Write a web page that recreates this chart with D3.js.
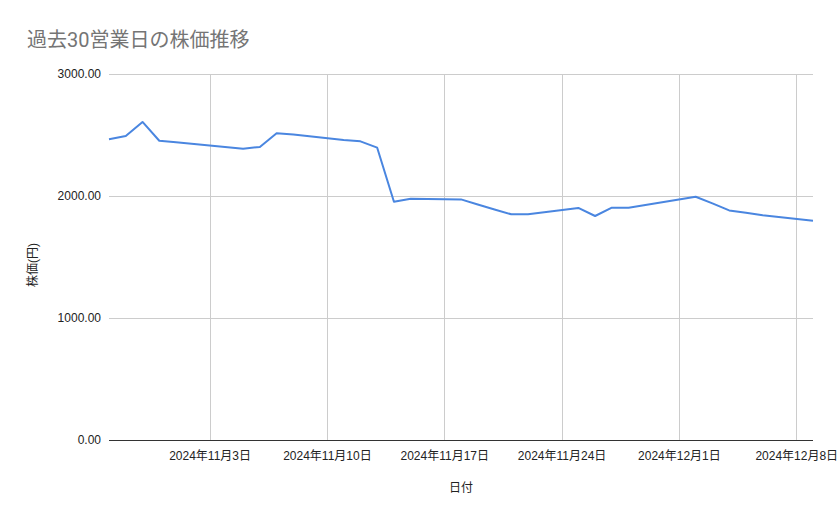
<!DOCTYPE html>
<html>
<head>
<meta charset="utf-8">
<script src="https://cdn.jsdelivr.net/npm/d3@7"></script>
<style>
  body { margin: 0; background: #fff; }
  text { font-family: "Liberation Sans", Arial, "Noto Sans CJK JP", sans-serif; }
</style>
</head>
<body>
<svg id="chart" width="839" height="519"></svg>
<script>
// business days shown (Nov 4 holiday)
const dates = [
  "2024-10-28","2024-10-29","2024-10-30","2024-10-31","2024-11-01",
  "2024-11-05","2024-11-06","2024-11-07","2024-11-08",
  "2024-11-11","2024-11-12","2024-11-13","2024-11-14","2024-11-15",
  "2024-11-18","2024-11-19","2024-11-20","2024-11-21","2024-11-22",
  "2024-11-25","2024-11-26","2024-11-27","2024-11-28","2024-11-29",
  "2024-12-02","2024-12-03","2024-12-04","2024-12-05","2024-12-06",
  "2024-12-09"
];
const prices = [
  2465, 2492, 2607, 2453, 2440,
  2388, 2402, 2514, 2505,
  2459, 2448, 2396, 1953, 1978,
  1972, 1930, 1890, 1850, 1850,
  1902, 1836, 1904, 1904, 1926,
  1994, 1940, 1882, 1863, 1842,
  1798
];
const xTicks = ["2024-11-03","2024-11-10","2024-11-17","2024-11-24","2024-12-01","2024-12-08"];
const yTicks = [0, 1000, 2000, 3000];

const parse = d3.timeParse("%Y-%m-%d");
const data = dates.map((d, i) => ({date: parse(d), value: prices[i]}));

const svg = d3.select("#chart");
const plotL = 109, plotR = 813, plotT = 74, plotB = 440;

const x = d3.scaleTime()
  .domain([parse("2024-10-28"), parse("2024-12-09")])
  .range([plotL, plotR]);
const y = d3.scaleLinear().domain([0, 3000]).range([plotB, plotT]);

// title
svg.append("text")
  .attr("x", 27).attr("y", 47)
  .attr("font-size", 20)
  .attr("fill", "#757575")
  .style("font-family", "Roboto, 'Noto Sans CJK JP', sans-serif")
  .text("過去30営業日の株価推移");

// horizontal grid
svg.append("g")
  .selectAll("line")
  .data(yTicks.filter(d => d > 0))
  .enter().append("line")
  .attr("x1", plotL).attr("x2", plotR)
  .attr("y1", d => Math.round(y(d)) + 0.5).attr("y2", d => Math.round(y(d)) + 0.5)
  .attr("stroke", "#cccccc").attr("stroke-width", 1);

// vertical grid
svg.append("g")
  .selectAll("line")
  .data(xTicks.map(parse))
  .enter().append("line")
  .attr("x1", d => Math.round(x(d)) + 0.5).attr("x2", d => Math.round(x(d)) + 0.5)
  .attr("y1", plotT).attr("y2", plotB)
  .attr("stroke", "#cccccc").attr("stroke-width", 1);

// y axis labels
const yAxis = d3.axisLeft(y).tickValues(yTicks).tickFormat(d3.format(".2f")).tickSize(0).tickPadding(8);
const gy = svg.append("g").attr("transform", `translate(${plotL},0)`).call(yAxis);
gy.select(".domain").remove();
gy.selectAll("text").attr("font-size", 12).attr("fill", "#222").style("font-family", "'Liberation Sans', Arial, sans-serif");

// x axis labels
const fmt = d => `${d.getFullYear()}年${d.getMonth() + 1}月${d.getDate()}日`;
const xAxis = d3.axisBottom(x).tickValues(xTicks.map(parse)).tickFormat(fmt).tickSize(0).tickPadding(11);
const gx = svg.append("g").attr("transform", `translate(0,${plotB})`).call(xAxis);
gx.select(".domain").remove();
gx.selectAll("text").attr("font-size", 12).attr("fill", "#222")
  .style("font-family", "'Liberation Sans', Arial, 'Noto Sans CJK JP', sans-serif");

// baseline
svg.append("line")
  .attr("x1", plotL).attr("x2", plotR)
  .attr("y1", plotB + 0.5).attr("y2", plotB + 0.5)
  .attr("stroke", "#333").attr("stroke-width", 1);

// line
const line = d3.line().x(d => x(d.date)).y(d => y(d.value));
svg.append("path")
  .datum(data)
  .attr("d", line)
  .attr("fill", "none")
  .attr("stroke", "#4a86e0")
  .attr("stroke-width", 2)
  .attr("stroke-linejoin", "round");

// axis titles
svg.append("text")
  .attr("x", 461).attr("y", 492)
  .attr("text-anchor", "middle")
  .attr("font-size", 12).attr("fill", "#222")
  .text("日付");

svg.append("text")
  .attr("transform", "translate(37,265) rotate(-90)")
  .attr("text-anchor", "middle")
  .attr("font-size", 12).attr("fill", "#222")
  .text("株価(円)");
</script>
</body>
</html>
